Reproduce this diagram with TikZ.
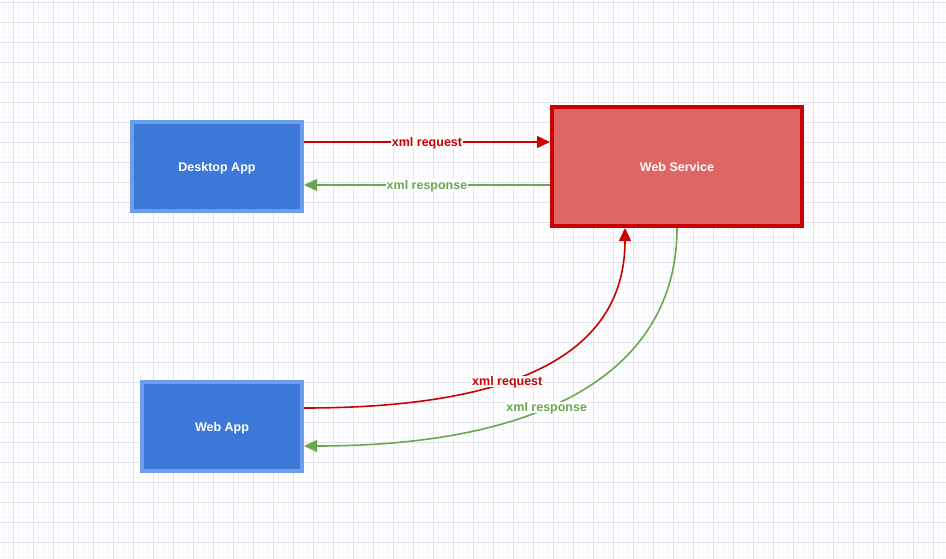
\documentclass[tikz,border=0pt]{standalone}
\usepackage{fontspec}
\setsansfont{Liberation Sans}
\usetikzlibrary{arrows.meta}

\definecolor{appfill}{HTML}{3C78D8}
\definecolor{appline}{HTML}{6D9EEB}
\definecolor{srvfill}{HTML}{E06666}
\definecolor{srvline}{HTML}{CC0000}
\definecolor{respline}{HTML}{6AA84F}
\definecolor{gridmajor}{HTML}{E2E2F1}
\definecolor{gridminor}{HTML}{F7F7FC}

\begin{document}
\begin{tikzpicture}[x=1pt, y=-1pt,
	box/.style={draw, line width=4pt, text=white, text depth=0pt, font=\sffamily\bfseries\fontsize{12.5}{14}\selectfont},
	client/.style={box, fill=appfill, draw=appline, minimum height=89pt},
	service/.style={box, fill=srvfill, draw=srvline},
	lbl/.style={fill=white, inner sep=1pt, text depth=0pt, font=\sffamily\bfseries\fontsize{12.5}{14}\selectfont},
	req/.style={draw=srvline, line width=1.6pt, -{Triangle[length=13pt, width=12pt]}},
	resp/.style={draw=respline, line width=1.6pt, -{Triangle[length=13pt, width=12pt]}}]
	\useasboundingbox (0,0) rectangle (946,559);
	% background grid
	\foreach \gx in {3,8,...,946} \draw[gridminor, line width=0.5pt] (\gx,0) -- (\gx,559);
	\foreach \gy in {2,7,...,559} \draw[gridminor, line width=0.5pt] (0,\gy) -- (946,\gy);
	\foreach \gx in {13,33,...,946} \draw[gridmajor, line width=0.8pt] (\gx,0) -- (\gx,559);
	\foreach \gy in {2,22,...,559} \draw[gridmajor, line width=0.8pt] (0,\gy) -- (946,\gy);
	% boxes
	\node[client, minimum width=170pt, name=desktop] at (217,166.5) {Desktop App};
	\node[client, minimum width=160pt, name=webapp] at (222,426.5) {Web App};
	\node[service, minimum width=250pt, minimum height=119pt, name=service] at (677,166.5) {Web Service};
	% desktop <-> service
	\draw[req] ([yshift=24.5pt]desktop.east) -- node[lbl, text=srvline] {xml request} ([yshift=24.5pt]service.west);
	\draw[resp] ([yshift=-18.5pt]service.west) -- node[lbl, text=respline] {xml response} ([yshift=-18.5pt]desktop.east);
	% webapp <-> service
	\draw[req] ([yshift=18.5pt]webapp.east) .. controls +(200,0) and +(0,132) .. node[lbl, text=srvline, pos=0.41] {xml request} ([xshift=-52pt]service.south);
	\draw[resp] (service.south) .. controls +(0,132) and +(258,0) .. node[lbl, text=respline, pos=0.6] {xml response} ([yshift=-19.5pt]webapp.east);
\end{tikzpicture}
\end{document}
